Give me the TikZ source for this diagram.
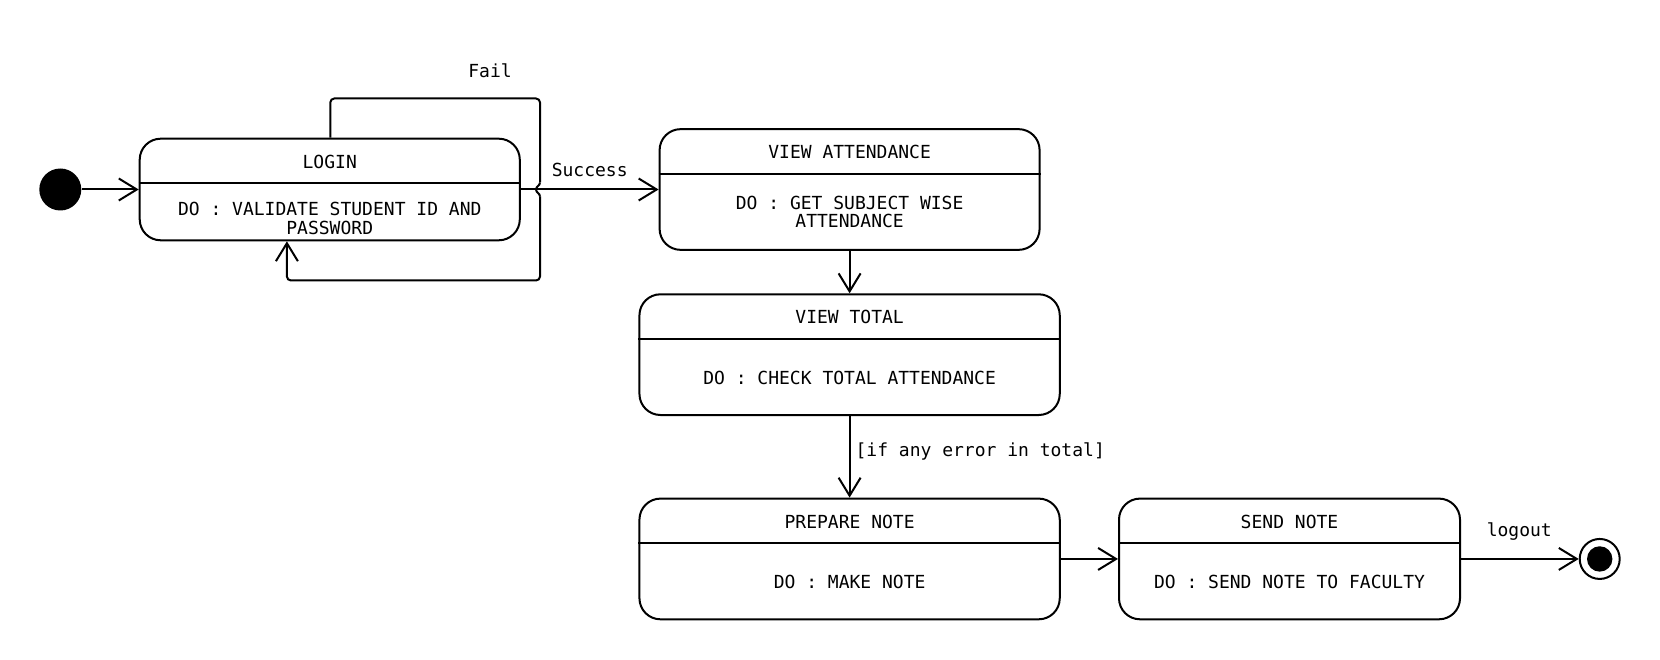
\documentclass[tikz,border=0pt]{standalone}
\usepackage{fontspec}
\setmonofont{DejaVu Sans Mono}
\usetikzlibrary{arrows.meta}
\begin{document}
\begin{tikzpicture}[x=1pt,y=-1pt,
  every node/.style={font=\ttfamily\fontsize{18}{18.5}\selectfont},
  statebox/.style={draw, fill=white, line width=2pt, rounded corners=21pt, inner sep=0pt},
  divider/.style={line width=2pt},
  conn/.style={line width=2pt, -{Straight Barb[length=18pt,width=22pt]}},
  txt/.style={inner sep=0pt, align=center}]
\useasboundingbox (0,0) rectangle (1660,660);
% states
\node[statebox, minimum width=380.1pt, minimum height=101.6pt] (login) at (329.75,189.5) {};
\draw[divider] (login.west |- 0,183.2) -- (login.east |- 0,183.2);
\node[txt] (logint) at (329.75,162) {LOGIN};
\node[txt] (loginb) at (329.75,218.4) {DO : VALIDATE STUDENT ID AND\\PASSWORD};

\node[statebox, minimum width=380pt, minimum height=120.7pt] (va) at (849.6,189.5) {};
\draw[divider] (va.west |- 0,173.6) -- (va.east |- 0,173.6);
\node[txt] (vat) at (849.6,152) {VIEW ATTENDANCE};
\node[txt] (vab) at (849.6,212) {DO : GET SUBJECT WISE\\ATTENDANCE};

\node[statebox, minimum width=420.3pt, minimum height=120.7pt] (vt) at (849.6,354.65) {};
\draw[divider] (vt.west |- 0,338.8) -- (vt.east |- 0,338.8);
\node[txt] (vtt) at (849.6,317.2) {VIEW TOTAL};
\node[txt] (vtb) at (849.6,377.6) {DO : CHECK TOTAL ATTENDANCE};

\node[statebox, minimum width=420.3pt, minimum height=120.7pt] (pn) at (849.6,558.95) {};
\draw[divider] (pn.west |- 0,543.1) -- (pn.east |- 0,543.1);
\node[txt] (pnt) at (849.6,521.5) {PREPARE NOTE};
\node[txt] (pnb) at (849.6,581.9) {DO : MAKE NOTE};

\node[statebox, minimum width=341pt, minimum height=120.7pt] (sn) at (1289.5,558.95) {};
\draw[divider] (sn.west |- 0,543.1) -- (sn.east |- 0,543.1);
\node[txt] (snt) at (1289.5,521.5) {SEND NOTE};
\node[txt] (snb) at (1289.5,581.9) {DO : SEND NOTE TO FACULTY};

% initial and final
\node[circle, fill=black, minimum size=42pt, inner sep=0pt] (init) at (60.3,189.5) {};
\node[circle, draw, line width=2pt, minimum size=40pt, inner sep=0pt] (fin) at (1599.7,558.95) {};
\node[circle, fill=black, minimum size=25.4pt, inner sep=0pt] (fini) at (fin.center) {};

% connectors
\draw[conn] (init.east) -- (login.west);
\draw[conn] (login.east) -- (va.west |- login.east);
\draw[conn] (va.south) -- (vt.north);
\draw[conn] (vt.south) -- (pn.north);
\draw[conn] (pn.east) -- (sn.west);
\draw[conn] (sn.east) -- (fin.west);

% fail loop
\coordinate (fa) at (330.3,98.5);
\coordinate (fb) at (540,98.5);
\coordinate (fc) at (540,280.5);
\coordinate (fd) at (286.9,280.5);
\draw[line width=2pt, rounded corners=4pt] (login.north -| fa) -- (fa) -- (fb) -- (540,182.5);
\draw[line width=2pt] (540,182.5) to[out=-90,in=90] (536,189.5) to[out=-90,in=90] (540,196.5);
\draw[line width=2pt, rounded corners=4pt, -{Straight Barb[length=18pt,width=22pt]}] (540,196.5) -- (fc) -- (fd) -- (login.south -| fd);

% labels
\node[txt] (lfail) at (490,70.5) {Fail};
\node[txt] (lsucc) at (589.7,170.2) {Success};
\node[txt, anchor=west] (lerr) at (855.4,451.5) {[if any error in total]};
\node[txt] (llog) at (1519.3,531.5) {logout};
\end{tikzpicture}
\end{document}
